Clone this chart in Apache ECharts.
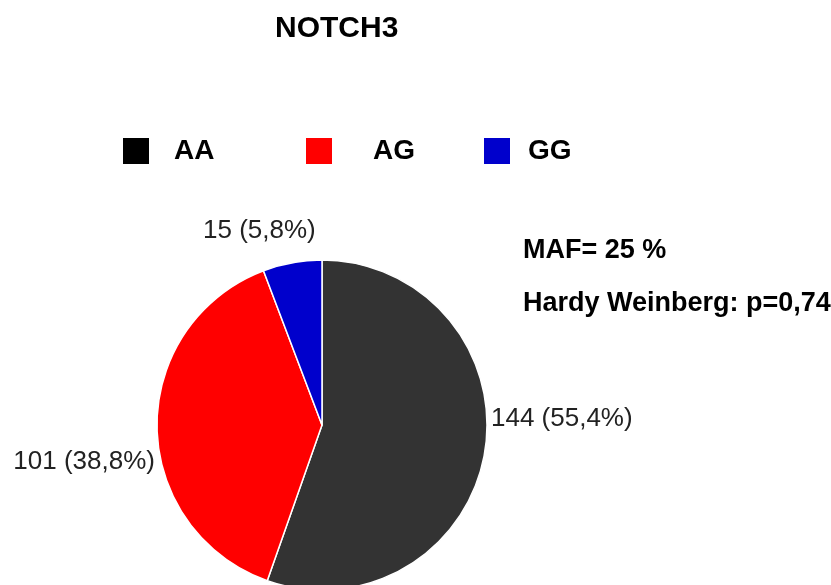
<!DOCTYPE html>
<html>
<head>
<meta charset="utf-8">
<script src="https://cdn.jsdelivr.net/npm/echarts@6/dist/echarts.min.js"></script>
<style>html,body{margin:0;padding:0;background:#fff;}#c{width:831px;height:585px;}</style>
</head>
<body>
<div id="c"></div>
<script>
const titleText = 'NOTCH3';
const categories = ['AA', 'AG', 'GG'];
const counts = [144, 101, 15];
const colors = ['#333333', '#ff0000', '#0000cc'];
const legendColors = ['#000000', '#ff0000', '#0000cc'];
const notes = ['MAF= 25 %', 'Hardy Weinberg: p=0,74'];

const FONT = '"Liberation Sans", Arial, sans-serif';
const chart = echarts.init(document.getElementById('c'), null, {renderer: 'canvas'});
const total = counts.reduce((a, b) => a + b, 0);

const legendLeft = [121, 304, 482];
const legendTextPad = [19, 35, 12];
const legends = categories.map((c, i) => ({
  data: [{name: c, itemStyle: {color: legendColors[i]}}],
  left: legendLeft[i], top: 136, padding: 0,
  icon: 'rect', itemWidth: 28, itemHeight: 28,
  selectedMode: false,
  textStyle: {fontFamily: FONT, fontSize: 28, fontWeight: 'bold', color: '#000', padding: [0, 0, 0, legendTextPad[i]]}
}));

const labelPos = [
  {x: 491, y: 419, align: 'left'},
  {x: 155, y: 462, align: 'right'},
  {x: 203, y: 231, align: 'left'}
];

chart.setOption({
  animation: false,
  backgroundColor: '#fff',
  title: {
    text: titleText, left: 275, top: 14, padding: 0,
    textStyle: {fontFamily: FONT, fontSize: 30, fontWeight: 'bold', color: '#000'}
  },
  legend: legends,
  graphic: notes.map((t, i) => ({
    type: 'text', left: 523, top: i === 0 ? 237 : 290,
    style: {text: t, font: 'bold 27px ' + FONT, fill: '#000'}
  })),
  series: [{
    type: 'pie',
    center: [322, 425],
    radius: 165,
    startAngle: 90,
    clockwise: true,
    data: categories.map((c, i) => ({name: c, value: counts[i], itemStyle: {color: colors[i]}})),
    itemStyle: {borderColor: '#fff', borderWidth: 1.5},
    label: {
      show: true, position: 'outside', overflow: 'none',
      fontFamily: FONT, fontSize: 26, color: '#222',
      formatter: p => p.value + ' (' + (p.value / total * 100).toFixed(1).replace('.', ',') + '%)'
    },
    labelLine: {show: false},
    labelLayout: p => ({x: labelPos[p.dataIndex].x, y: labelPos[p.dataIndex].y, align: labelPos[p.dataIndex].align, verticalAlign: 'middle'}),
    emphasis: {disabled: true}
  }]
});
</script>
</body>
</html>
